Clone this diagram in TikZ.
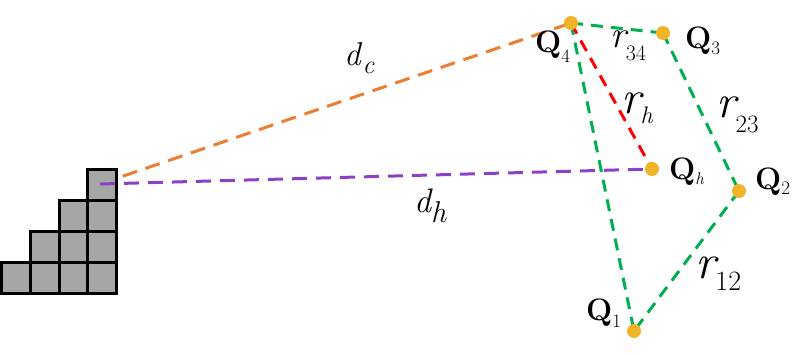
\documentclass[tikz,border=0pt]{standalone}
\usepackage{fontspec}
\usetikzlibrary{backgrounds}
\definecolor{qgreen}{RGB}{0,176,80}
\definecolor{qorange}{RGB}{237,125,49}
\definecolor{qred}{RGB}{255,0,0}
\definecolor{qpurple}{RGB}{140,64,200}
\definecolor{qdot}{RGB}{240,180,40}
\definecolor{sqgray}{RGB}{166,166,166}
\newcommand\fs[1]{\fontsize{#1pt}{#1pt}\selectfont}
\begin{document}
\begin{tikzpicture}[x=1pt,y=-1pt,
  conn/.style={line width=3pt, dash pattern=on 12pt off 8pt},
  longconn/.style={line width=3pt, dash pattern=on 15pt off 9pt},
  gline/.style={conn, draw=qgreen},
  rline/.style={conn, draw=qred},
  oline/.style={longconn, draw=qorange},
  pline/.style={longconn, draw=qpurple},
  dot/.style={circle, fill=qdot, minimum size=14pt, inner sep=0pt},
  sq/.style={draw=black, line width=3pt, fill=sqgray},
  lab/.style={anchor=base west, inner sep=0pt}
]
\useasboundingbox (0,0) rectangle (798,354);

% points
\node[dot] (Q4) at (571,23) {};
\node[dot] (Q3) at (663,33) {};
\node[dot] (Qh) at (652,169) {};
\node[dot] (Q2) at (739,191) {};
\node[dot] (Q1) at (634,331) {};
\coordinate (src) at (100,184);

\begin{scope}[on background layer]
  \draw[oline] (src) -- (Q4.center);
  % staircase
  \foreach \c in {0,1,2,3} {\draw[sq] (1.5+\c*28.75,262.5) rectangle +(28.75,31);}
  \foreach \c in {1,2,3} {\draw[sq] (1.5+\c*28.75,231.5) rectangle +(28.75,31);}
  \foreach \c in {2,3} {\draw[sq] (1.5+\c*28.75,200.5) rectangle +(28.75,31);}
  \draw[sq] (1.5+3*28.75,169.5) rectangle +(28.75,31);
  \draw[pline] (src) -- (Qh.center);
  \draw[gline] (Q4.center) -- (Q3.center);
  \draw[gline] (Q3.center) -- (Q2.center);
  \draw[gline] (Q2.center) -- (Q1.center);
  \draw[gline] (Q4.center) -- (Q1.center);
  \draw[rline] (Q4.center) -- (Qh.center);
\end{scope}

% labels
\node[lab] (lQ4) at (535,52) {\fs{31}\bfseries Q\raisebox{-10pt}{\fs{19}\mdseries 4}};
\node[lab] (lQ3) at (685,48) {\fs{31}\bfseries Q\raisebox{-6pt}{\fs{19}\mdseries 3}};
\node[lab] (lQh) at (669,179) {\fs{31}\bfseries Q\raisebox{-5pt}{\fs{17}\mdseries\itshape h}};
\node[lab] (lQ2) at (755,189) {\fs{31}\bfseries Q\raisebox{-5pt}{\fs{19}\mdseries 2}};
\node[lab] (lQ1) at (586,320) {\fs{31}\bfseries Q\raisebox{-7pt}{\fs{19}\mdseries 1}};
\node[lab] (lr34) at (610,47) {{\fs{38}\itshape r}\raisebox{-13pt}{\fs{22}34}};
\node[lab] (lrh) at (621,113) {{\fs{47}\itshape r}\raisebox{-10pt}{\fs{24}\itshape h}};
\node[lab] (lr23) at (716,117) {{\fs{47}\itshape r}\raisebox{-15pt}{\fs{25}23}};
\node[lab] (lr12) at (695,278) {{\fs{49}\itshape r}\raisebox{-12pt}{\fs{28}12}};
\node[lab] (ldc) at (344,65) {{\fs{33}\itshape d}\hspace{2pt}\raisebox{-8pt}{\fs{26}\itshape c}};
\node[lab] (ldh) at (414,212) {{\fs{34}\itshape d}\raisebox{-10pt}{\fs{30}\itshape h}};
\end{tikzpicture}
\end{document}
